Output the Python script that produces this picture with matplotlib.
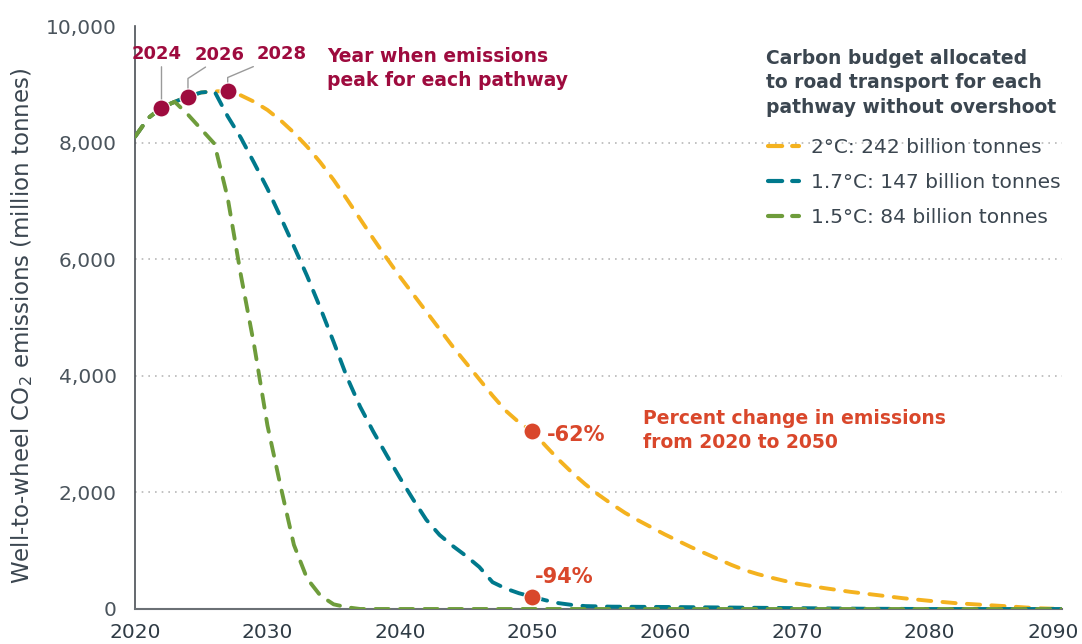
import numpy as np
import matplotlib.pyplot as plt
from matplotlib.lines import Line2D
from matplotlib.transforms import ScaledTranslation

plt.rcParams['font.family'] = ['DejaVu Sans']

# 2°C pathway
years_2c = [2020, 2021, 2022, 2023, 2024, 2025, 2026, 2027, 2028, 2029,
            2030, 2031, 2032, 2033, 2034, 2035, 2036, 2037, 2038, 2039,
            2040, 2041, 2042, 2043, 2044, 2045, 2046, 2047, 2048, 2049,
            2050, 2051, 2052, 2053, 2054, 2055, 2056, 2057, 2058, 2059,
            2060, 2061, 2062, 2063, 2064, 2065, 2066, 2067, 2068, 2069,
            2070, 2072, 2074, 2076, 2078, 2080, 2082, 2084, 2086, 2088, 2090]
em_2c = [8100, 8420, 8600, 8700, 8790, 8860, 8880, 8880, 8810, 8700,
         8560, 8380, 8170, 7930, 7660, 7360, 7030, 6690, 6350, 6020,
         5700, 5400, 5100, 4800, 4500, 4220, 3940, 3660, 3400, 3200,
         3050, 2800, 2560, 2340, 2140, 1960, 1800, 1650, 1520, 1400,
         1280, 1170, 1060, 960, 860, 760, 670, 600, 540, 485,
         435, 360, 295, 240, 185, 140, 100, 72, 45, 15, 0]

# 1.7°C pathway
years_17c = [2020, 2021, 2022, 2023, 2024, 2025, 2026, 2027, 2028, 2029,
             2030, 2031, 2032, 2033, 2034, 2035, 2036, 2037, 2038, 2039,
             2040, 2041, 2042, 2043, 2044, 2045, 2046, 2047, 2048, 2049,
             2050, 2051, 2052, 2053, 2054, 2056, 2060, 2065, 2070, 2075,
             2080, 2090]
em_17c = [8100, 8420, 8600, 8700, 8790, 8860, 8880, 8450, 8080, 7650,
          7210, 6720, 6220, 5710, 5160, 4580, 3980, 3470, 3040, 2640,
          2250, 1880, 1530, 1270, 1080, 910, 720, 460, 350, 270,
          210, 150, 100, 70, 50, 40, 35, 25, 15, 5,
          0, 0]

# 1.5°C pathway
years_15c = [2020, 2021, 2022, 2023, 2024, 2025, 2026, 2027, 2028, 2029,
             2030, 2031, 2032, 2033, 2034, 2035, 2036, 2037, 2090]
em_15c = [8100, 8420, 8600, 8700, 8480, 8230, 7980, 7050, 5720, 4520,
          3150, 2100, 1100, 520, 230, 80, 30, 0, 0]

labels = ['2°C: 242 billion tonnes', '1.7°C: 147 billion tonnes', '1.5°C: 84 billion tonnes']
colors = ['#F4B21F', '#00798C', '#6E9C3B']

peak_years = [2022, 2024, 2027]
peak_vals = [8600, 8790, 8880]
peak_labels = ['2024', '2026', '2028']

pct_years = [2050, 2050]
pct_vals = [3050, 210]
pct_labels = ['-62%', '-94%']

crimson = '#9E0B3E'
orange = '#D9472B'
dark = '#3B4650'

fig = plt.figure(figsize=(10.82, 6.44), dpi=100)
ax = fig.add_axes([135/1082, 1-609/644, 927/1082, 583/644])

for y in [2000, 4000, 6000, 8000]:
    ax.axhline(y, color='#b8b8b8', lw=1.2, ls=(0, (1, 3)), zorder=1)

for xs, ys, c in zip([years_2c, years_17c, years_15c], [em_2c, em_17c, em_15c], colors):
    ax.plot(xs, ys, color=c, lw=2.8, dashes=(3.4, 2.9), dash_capstyle='round', zorder=3)

ax.set_xlim(2020, 2090)
ax.set_ylim(0, 10000)
ax.set_xticks(range(2020, 2091, 10))
ax.set_yticks(range(0, 10001, 2000))
ax.set_yticklabels(['{:,}'.format(v) for v in range(0, 10001, 2000)])
ax.tick_params(axis='y', length=0, pad=13, labelsize=14.5, labelcolor='#4a545c')
ax.tick_params(axis='x', length=0, pad=10, labelsize=14.5, labelcolor='#2f3b45')
# last year label pulled in so it stays on the canvas
last = ax.get_xticklabels()[-1]
last.set_transform(last.get_transform() + ScaledTranslation(-0.09, 0, fig.dpi_scale_trans))
for s in ['top', 'right']:
    ax.spines[s].set_visible(False)
ax.spines['left'].set_color('#4a4f55')
ax.spines['left'].set_linewidth(1.2)
ax.spines['bottom'].set_color('#6b7075')
ax.spines['bottom'].set_linewidth(1.5)

fig.text(22/1082, 1-326/644, r'Well-to-wheel CO$_2$ emissions (million tonnes)',
         rotation=90, ha='center', va='center', fontsize=16.5, color=dark)

# peak markers with leader lines
ax.scatter(peak_years, peak_vals, s=150, color=crimson, zorder=6, edgecolors='white', linewidths=0.8)
offsets = [(-5, 49), (32, 37), (54, 32)]
relx = [0.6, 0.32, 0.09]
conn = ['arc3', 'angle,angleA=33,angleB=90,rad=0', 'angle,angleA=23,angleB=90,rad=0']
for yr, v, lab, off, rx, cs in zip(peak_years, peak_vals, peak_labels, offsets, relx, conn):
    ax.annotate(lab, xy=(yr, v), xytext=off, textcoords='offset pixels',
                ha='center', va='baseline', fontsize=13, fontweight='bold', color=crimson,
                arrowprops=dict(arrowstyle='-', color='#9a9a9a', lw=1, relpos=(rx, 0),
                                shrinkA=1, shrinkB=0, connectionstyle=cs),
                zorder=5)

fig.text(327/1082, 1-86/644, 'Year when emissions\npeak for each pathway',
         ha='left', va='baseline', fontsize=13.5, fontweight='bold', color=crimson,
         linespacing=1.35)

# percent change markers
ax.scatter(pct_years, pct_vals, s=150, color=orange, zorder=6, edgecolors='white', linewidths=0.8)
for yr, v, lab, off in zip(pct_years, pct_vals, pct_labels, [(15, -4), (3, 20)]):
    ax.annotate(lab, xy=(yr, v), xytext=off, textcoords='offset pixels',
                ha='left', va='center', fontsize=15, fontweight='bold', color=orange)

fig.text(643/1082, 1-448/644, 'Percent change in emissions\nfrom 2020 to 2050',
         ha='left', va='baseline', fontsize=13.5, fontweight='bold', color=orange,
         linespacing=1.35)

# legend: title as its own text block, entries below
fig.text(766/1082, 1-113/644, 'Carbon budget allocated\nto road transport for each\npathway without overshoot',
         ha='left', va='baseline', fontsize=13.5, fontweight='bold', color='#3b4650',
         linespacing=1.38)
handles = [Line2D([], [], color=c, lw=3, dashes=(3.4, 2.4), dash_capstyle='round') for c in colors]
leg = ax.legend(handles, labels, loc='upper left', bbox_to_anchor=(768/1082, 1-138/644),
                bbox_transform=fig.transFigure, frameon=False, fontsize=14.5,
                handlelength=1.55, handletextpad=0.6, labelspacing=0.8,
                borderpad=0, borderaxespad=0, labelcolor='#3b4650')

fig.savefig('out.png', dpi=100)
